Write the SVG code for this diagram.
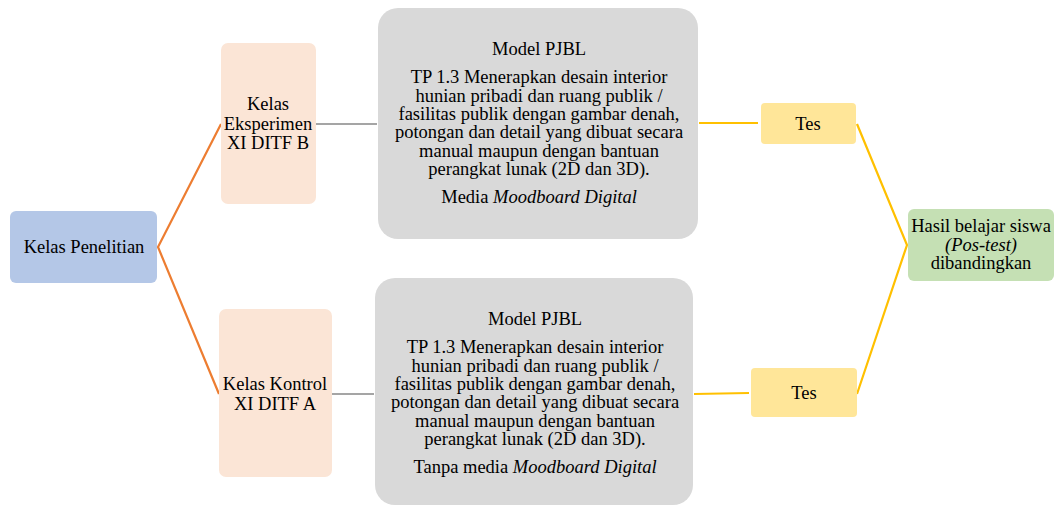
<svg xmlns="http://www.w3.org/2000/svg" width="1059" height="507" viewBox="0 0 1059 507">
<style>
text{font-family:'Liberation Serif','Times New Roman',serif;font-size:18.5px;fill:#000;text-anchor:middle}
.it{font-style:italic}
.blue{fill:#B4C7E7}
.peach{fill:#FBE5D6}
.grey{fill:#D9D9D9}
.yel{fill:#FFE699}
.green{fill:#C5E0B4}
.o{stroke:#ED7D31;stroke-width:2.2;fill:none}
.g{stroke:#A5A5A5;stroke-width:2.2;fill:none}
.y{stroke:#FFC000;stroke-width:2.2;fill:none}
</style>
<rect width="1059" height="507" fill="#fff"/>
<g id="connectors">
<polyline class="o" points="221,124 158,247 219,394"/>
<line class="g" x1="316" y1="124" x2="377" y2="124"/>
<line class="g" x1="332" y1="394" x2="374" y2="394"/>
<line class="y" x1="699" y1="123" x2="758" y2="123"/>
<line class="y" x1="694" y1="394" x2="749" y2="393"/>
<polyline class="y" points="857,124 907,245 857,394"/>
</g>
<g id="kelas-penelitian">
<rect class="blue" x="10" y="211" width="147" height="72" rx="6"/>
<text x="84" y="253">Kelas Penelitian</text>
</g>
<g id="kelas-eksperimen">
<rect class="peach" x="221" y="43" width="95" height="161" rx="7"/>
<text x="268" y="110">Kelas</text>
<text x="268" y="129.5">Eksperimen</text>
<text x="268" y="149">XI DITF B</text>
</g>
<g id="kelas-kontrol">
<rect class="peach" x="219" y="309" width="113" height="168" rx="7"/>
<text x="275" y="390">Kelas Kontrol</text>
<text x="275" y="410">XI DITF A</text>
</g>
<g id="model-eksperimen">
<rect class="grey" x="378" y="8" width="320" height="231" rx="20"/>
<text x="539" y="55">Model PJBL</text>
<text x="539" y="83">TP 1.3 Menerapkan desain interior</text>
<text x="539" y="101.5">hunian pribadi dan ruang publik /</text>
<text x="539" y="120">fasilitas publik dengan gambar denah,</text>
<text x="539" y="138">potongan dan detail yang dibuat secara</text>
<text x="539" y="156.5">manual maupun dengan bantuan</text>
<text x="539" y="175">perangkat lunak (2D dan 3D).</text>
<text x="539" y="203">Media <tspan class="it">Moodboard Digital</tspan></text>
</g>
<g id="model-kontrol">
<rect class="grey" x="375" y="278" width="318" height="227" rx="20"/>
<text x="535" y="325">Model PJBL</text>
<text x="535" y="353">TP 1.3 Menerapkan desain interior</text>
<text x="535" y="371.5">hunian pribadi dan ruang publik /</text>
<text x="535" y="390">fasilitas publik dengan gambar denah,</text>
<text x="535" y="408">potongan dan detail yang dibuat secara</text>
<text x="535" y="426.5">manual maupun dengan bantuan</text>
<text x="535" y="445">perangkat lunak (2D dan 3D).</text>
<text x="535" y="473">Tanpa media <tspan class="it">Moodboard Digital</tspan></text>
</g>
<g id="tes-atas">
<rect class="yel" x="761" y="103" width="95" height="41" rx="4"/>
<text x="808" y="130">Tes</text>
</g>
<g id="tes-bawah">
<rect class="yel" x="751" y="368" width="106" height="49" rx="4"/>
<text x="804" y="399">Tes</text>
</g>
<g id="hasil">
<rect class="green" x="908" y="209" width="146" height="72" rx="6"/>
<text x="981" y="231.5">Hasil belajar siswa</text>
<text x="981" y="251" class="it">(Pos-test)</text>
<text x="981" y="269">dibandingkan</text>
</g>
</svg>
